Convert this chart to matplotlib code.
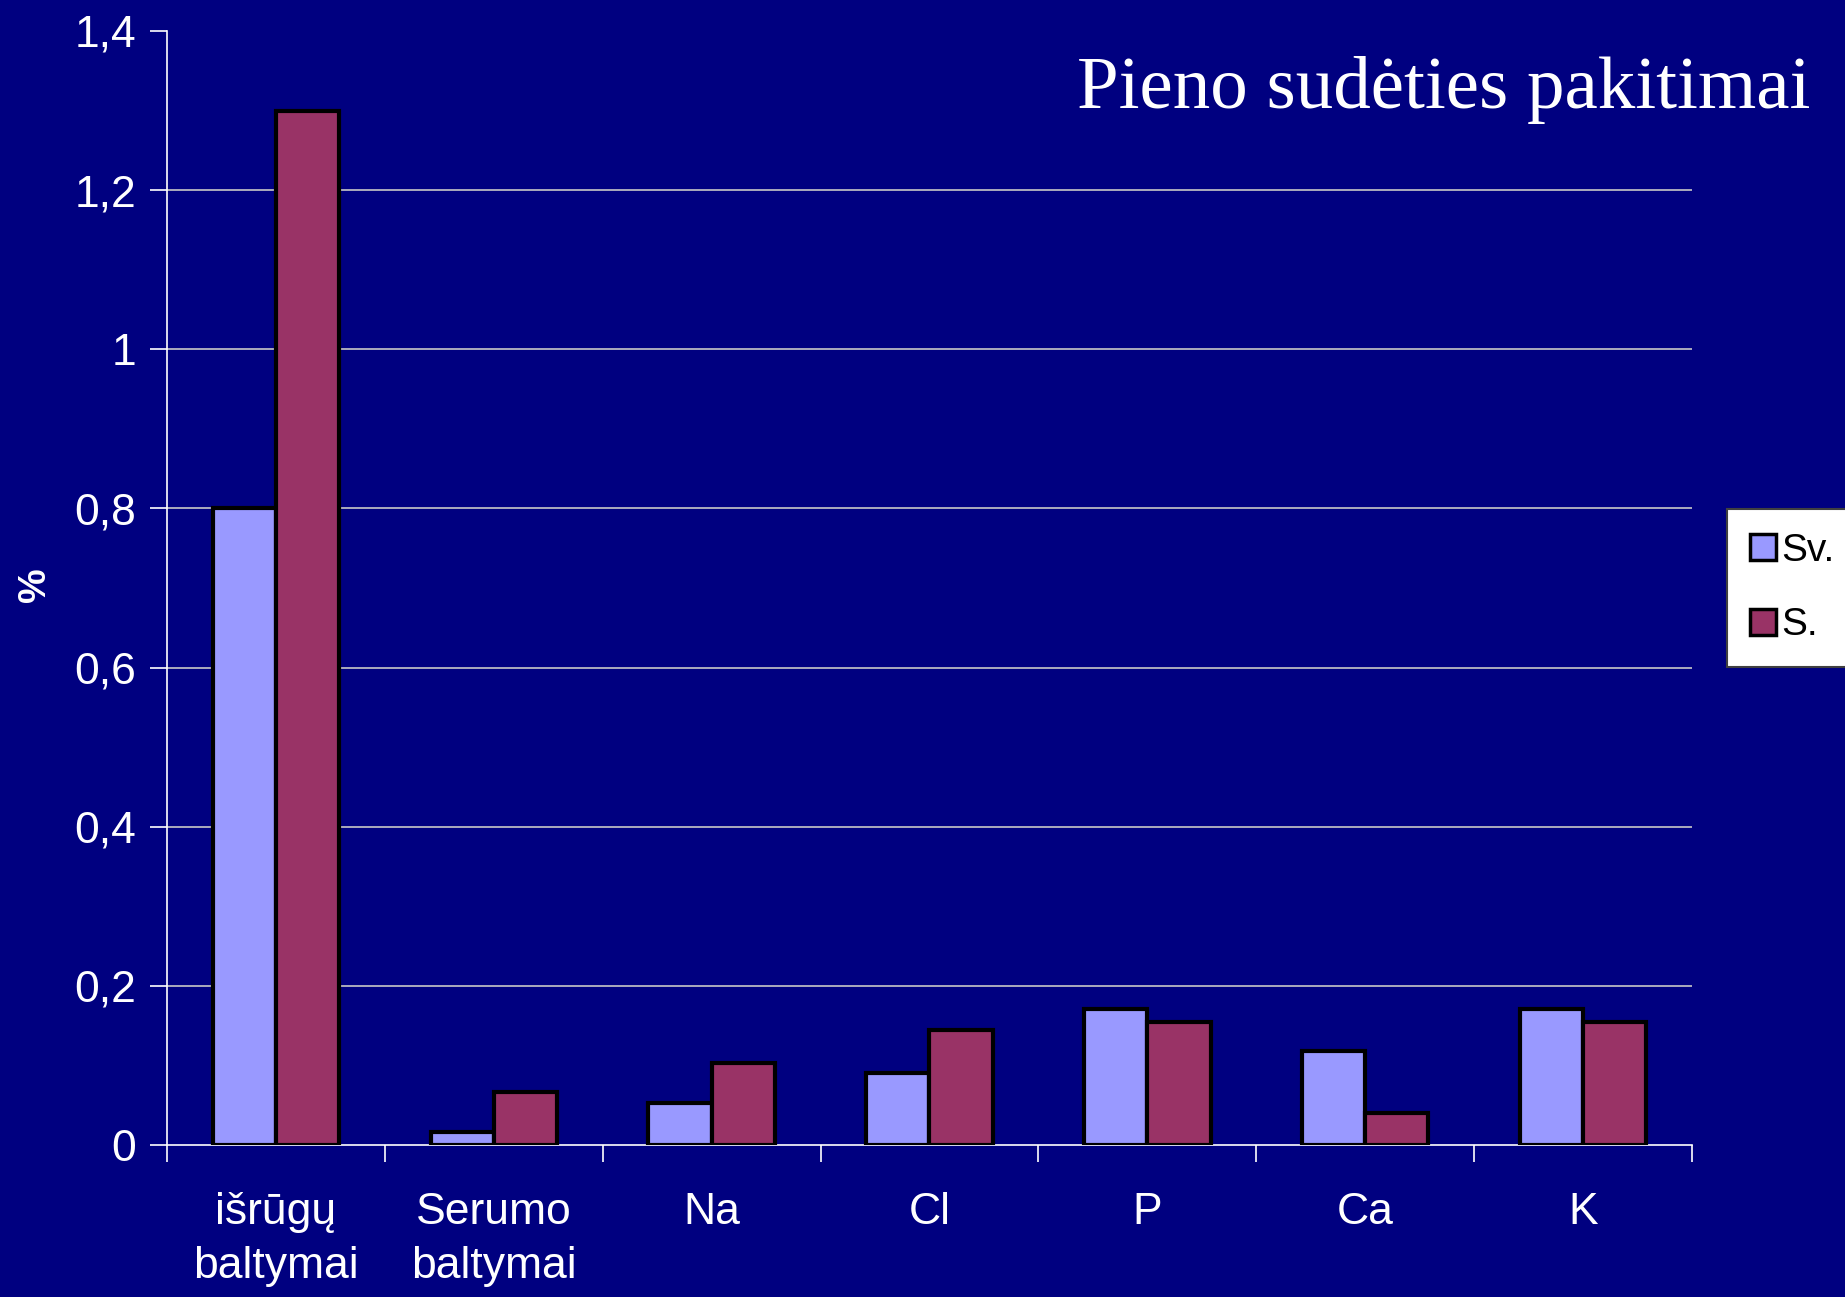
import numpy as np
import matplotlib
matplotlib.use("Agg")
import matplotlib.pyplot as plt
from matplotlib.patches import Patch

# data
categories = ['išrūgų\nbaltymai', 'Serumo\nbaltymai', 'Na', 'Cl', 'P', 'Ca', 'K']
sv_vals = [0.80, 0.016, 0.053, 0.09, 0.171, 0.118, 0.171]
s_vals = [1.30, 0.066, 0.103, 0.145, 0.154, 0.04, 0.154]
series_names = ['Sv.', 'S.']
yticks = [0, 0.2, 0.4, 0.6, 0.8, 1.0, 1.2, 1.4]
ytick_labels = ['0', '0,2', '0,4', '0,6', '0,8', '1', '1,2', '1,4']

bg = '#000080'
c_sv = '#9999FF'
c_s = '#993366'

plt.rcParams['font.family'] = ['Liberation Sans', 'DejaVu Sans']

fig = plt.figure(figsize=(18.45, 12.97), dpi=100, facecolor=bg)
ax = fig.add_axes([167/1845, 1 - 1145/1297, (1692-167)/1845, (1145-31)/1297])
ax.set_facecolor(bg)

x = np.arange(len(categories))
w = 0.29
ax.bar(x - w/2, sv_vals, w, color=c_sv, edgecolor='black', linewidth=3, zorder=3)
ax.bar(x + w/2, s_vals, w, color=c_s, edgecolor='black', linewidth=3, zorder=3)

ax.set_xlim(-0.5, len(categories) - 0.5)
ax.set_ylim(0, 1.4)
ax.set_yticks(yticks)
ax.set_yticklabels(ytick_labels)
# gridlines only between 0 and the top, none at 1,4
for yv in yticks[1:-1]:
    ax.axhline(yv, color='#C8C8C8', linewidth=1.2, zorder=1)

# category labels centered, ticks between categories
ax.set_xticks(x)
ax.set_xticklabels(categories, color='white', fontsize=32, linespacing=1.4)
ax.tick_params(axis='x', length=0, pad=34)
ax.set_xticks(np.arange(-0.5, len(categories)), minor=True)
ax.tick_params(axis='x', which='minor', length=12, color='white', width=1.2)
ax.tick_params(axis='y', length=12, color='white', width=1.2, labelcolor='white',
               labelsize=32, pad=10)

for side in ['top', 'right']:
    ax.spines[side].set_visible(False)
for side in ['left', 'bottom']:
    ax.spines[side].set_color('white')
    ax.spines[side].set_linewidth(1.2)

ax.set_ylabel('%', color='white', fontsize=28, fontweight='bold')
ax.yaxis.set_label_coords(-0.075, 0.503)

fig.text(1810/1845, 1 - 108/1297, 'Pieno sudėties pakitimai', color='white',
         fontsize=54, family=['Liberation Serif', 'DejaVu Serif'],
         ha='right', va='baseline')

handles = [Patch(facecolor=c_sv, edgecolor='black', linewidth=2.5),
           Patch(facecolor=c_s, edgecolor='black', linewidth=2.5)]
leg = fig.legend(handles, series_names, loc='center left',
                 bbox_to_anchor=(1727/1845, 1 - 588/1297),
                 fontsize=28, frameon=True, fancybox=False, framealpha=1,
                 handlelength=0.65, handleheight=0.65, handletextpad=0.15,
                 labelspacing=1.0, borderpad=0.6, borderaxespad=0)
leg.get_frame().set_facecolor('white')
leg.get_frame().set_edgecolor('#404040')
leg.get_frame().set_linewidth(1.5)

fig.savefig('out.png', dpi=100, facecolor=bg)
